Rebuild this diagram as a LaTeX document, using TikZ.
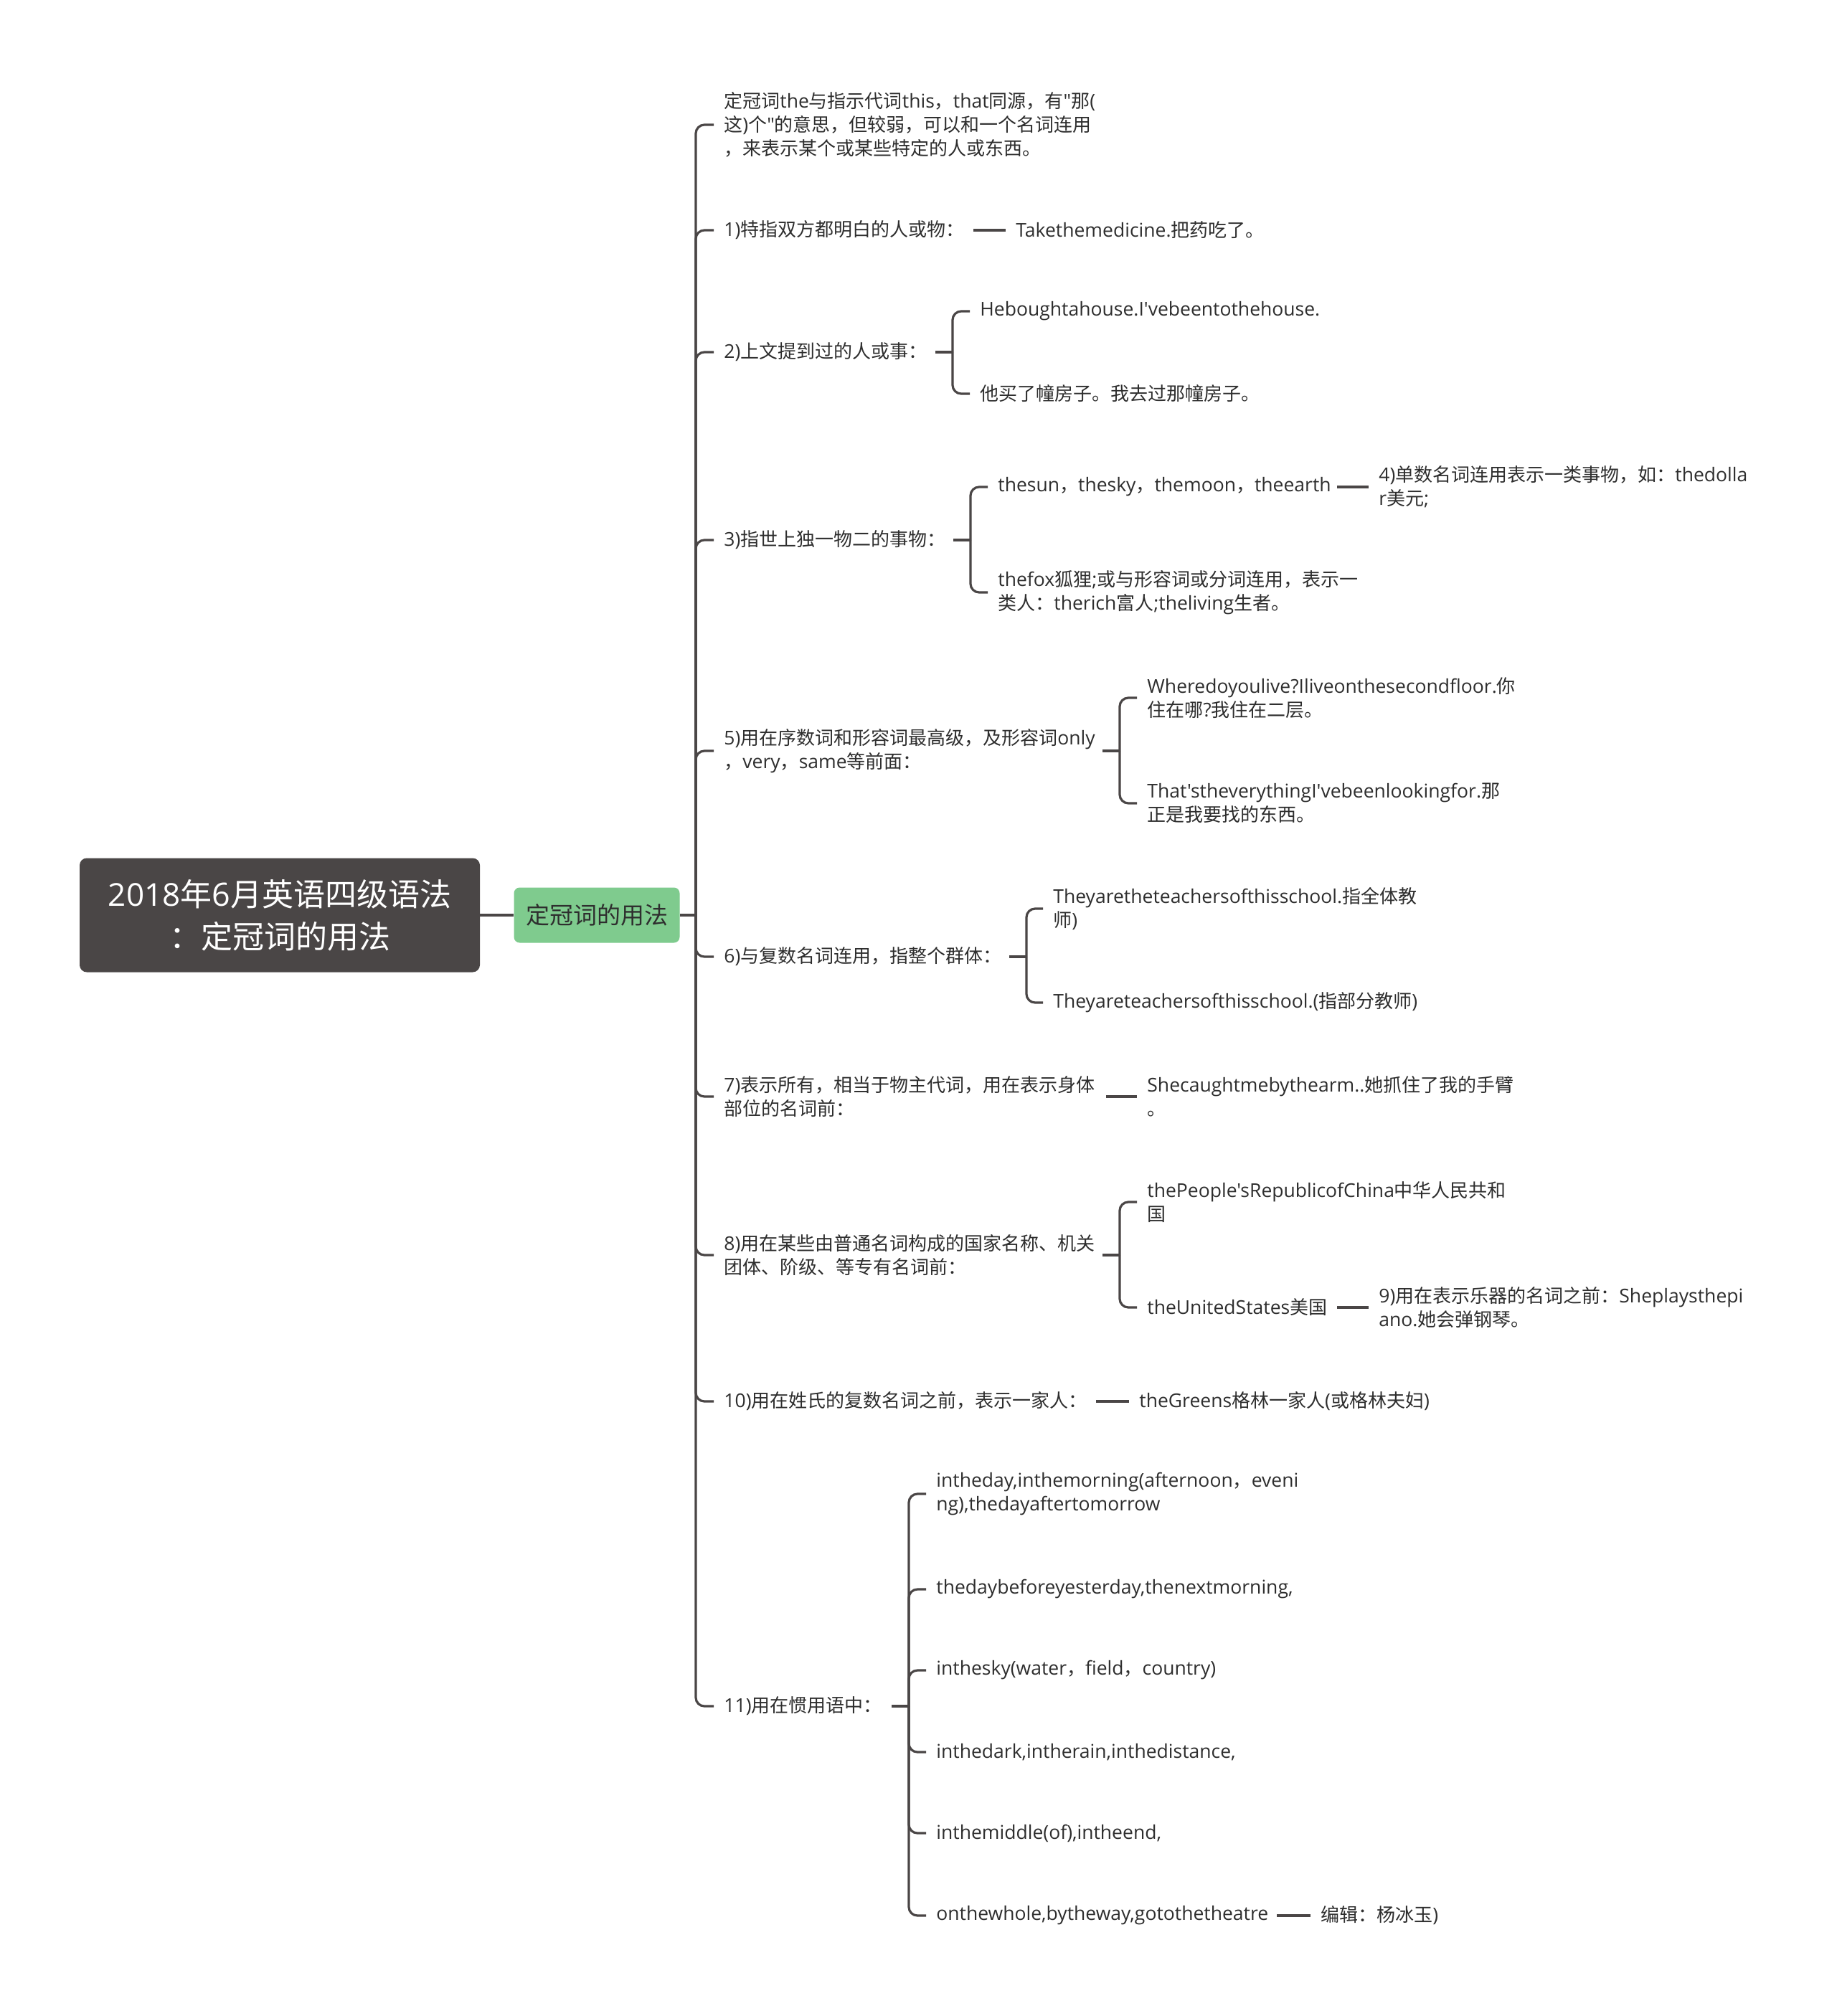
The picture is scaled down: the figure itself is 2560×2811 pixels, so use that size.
\documentclass[tikz,border=0pt]{standalone}
\usepackage{fontspec}
\setmainfont{Open Sans}[Ligatures=TeXOff]
\newfontfamily\cjkfont{Noto Sans CJK SC}
\newfontfamily\latfont{Open Sans}[Ligatures=TeXOff,Scale=1.02]
\XeTeXinterchartokenstate=1
\newXeTeXintercharclass\CJKcls
\newcount\cjkcc
\def\setcjkrange#1#2{\cjkcc=#1 \loop \XeTeXcharclass\cjkcc=\CJKcls \ifnum\cjkcc<#2 \advance\cjkcc by 1 \repeat}
\setcjkrange{"4E00}{"9FFF}
\setcjkrange{"3000}{"303F}
\setcjkrange{"FF00}{"FFEF}
\XeTeXinterchartoks 0 \CJKcls = {\cjkfont}
\XeTeXinterchartoks 4095 \CJKcls = {\cjkfont}
\XeTeXinterchartoks \CJKcls 0 = {\latfont}
\definecolor{lc}{HTML}{4A4646}
\definecolor{rootfill}{HTML}{4A4646}
\definecolor{gfill}{HTML}{7FCB8E}
\definecolor{tc}{HTML}{2E2E2E}
\tikzset{
  conn/.style={draw=lc, line width=1.6pt, rounded corners=6pt},
  txt/.style={anchor=west, inner xsep=7pt, inner ysep=1pt, align=left, text=tc,
    font=\fontsize{13}{16.5}\selectfont\latfont},
  rootbox/.style={fill=rootfill, rounded corners=5pt, minimum width=279pt,
    minimum height=79.5pt, inner sep=0pt, text=white, align=center,
    font=\fontsize{22}{29.5}\selectfont},
  subbox/.style={fill=gfill, rounded corners=4pt, minimum width=115.5pt,
    minimum height=38.5pt, inner sep=0pt, text=tc,
    font=\fontsize{16.5}{20}\selectfont},
}
\begin{document}
\begin{tikzpicture}[x=0.5pt,y=-0.5pt]
\fill[white] (0,0) rectangle (2560,2811);
\useasboundingbox (0,0) rectangle (2560,2811);

\node[rootbox] (root) at (390,1276) {2018年6月英语四级语法\\：定冠词的用法};
\node[subbox] (sub) at (832,1276) {定冠词的用法};
\coordinate (T) at (970,1276);
\draw[conn] (root.east) -- (sub.west);
\draw[conn] (sub.east) -- (T);

% level 2
\node[txt] (n0) at (995,174) {定冠词the与指示代词this，that同源，有"那(\\这)个"的意思，但较弱，可以和一个名词连用\\，来表示某个或某些特定的人或东西。};
\node[txt] (n1) at (995,321) {1)特指双方都明白的人或物：};
\node[txt] (n2) at (995,491) {2)上文提到过的人或事：};
\node[txt] (n3) at (995,753) {3)指世上独一物二的事物：};
\node[txt] (n5) at (995,1047) {5)用在序数词和形容词最高级，及形容词only\\，very，same等前面：};
\node[txt] (n6) at (995,1334) {6)与复数名词连用，指整个群体：};
\node[txt] (n7) at (995,1529) {7)表示所有，相当于物主代词，用在表示身体\\部位的名词前：};
\node[txt] (n8) at (995,1750) {8)用在某些由普通名词构成的国家名称、机关\\团体、阶级、等专有名词前：};
\node[txt] (n10) at (995,1954) {10)用在姓氏的复数名词之前，表示一家人：};
\node[txt] (n11) at (995,2379) {11)用在惯用语中：};
\foreach \n in {n0,n1,n2,n3,n5,n6,n7,n8,n10,n11} \draw[conn] (T) |- (\n.west);

% 1)
\node[txt] (c1) at (1402,321) {Takethemedicine.把药吃了。};
\coordinate (s1) at ([xshift=-22.5pt]c1.west);
\draw[conn] (s1) -- (c1.west);

% 2)
\node[txt] (c2a) at (1352,434) {Heboughtahouse.I'vebeentothehouse.};
\node[txt] (c2b) at (1352,549) {他买了幢房子。我去过那幢房子。};
\coordinate (b2) at (1328,491);
\draw[conn] ([xshift=-12pt]b2) -- (b2);
\foreach \c in {c2a,c2b} \draw[conn] (b2) |- (\c.west);

% 3)
\node[txt] (c3a) at (1377,679) {thesun，thesky，themoon，theearth};
\node[txt] (c3b) at (1377,826) {thefox狐狸;或与形容词或分词连用，表示一\\类人：therich富人;theliving生者。};
\coordinate (b3) at (1353,753);
\draw[conn] ([xshift=-12pt]b3) -- (b3);
\foreach \c in {c3a,c3b} \draw[conn] (b3) |- (\c.west);
\node[txt] (c4) at (1908,679) {4)单数名词连用表示一类事物，如：thedolla\\r美元;};
\coordinate (s4) at ([xshift=-22pt]c4.west);
\draw[conn] (s4) -- (c4.west);

% 5)
\node[txt] (c5a) at (1585,973) {Wheredoyoulive?Iliveonthesecondfloor.你\\住在哪?我住在二层。};
\node[txt] (c5b) at (1585,1120) {That'stheverythingI'vebeenlookingfor.那\\正是我要找的东西。};
\coordinate (b5) at (1561,1047);
\draw[conn] ([xshift=-12pt]b5) -- (b5);
\foreach \c in {c5a,c5b} \draw[conn] (b5) |- (\c.west);

% 6)
\node[txt] (c6a) at (1454,1267) {Theyaretheteachersofthisschool.指全体教\\师)};
\node[txt] (c6b) at (1454,1398) {Theyareteachersofthisschool.(指部分教师)};
\coordinate (b6) at (1431,1334);
\draw[conn] ([xshift=-12pt]b6) -- (b6);
\foreach \c in {c6a,c6b} \draw[conn] (b6) |- (\c.west);

% 7)
\node[txt] (c7) at (1585,1529) {Shecaughtmebythearm..她抓住了我的手臂\\。};
\coordinate (s7) at ([xshift=-21.5pt]c7.west);
\draw[conn] (s7) -- (c7.west);

% 8)
\node[txt] (c8a) at (1585,1676) {thePeople'sRepublicofChina中华人民共和\\国};
\node[txt] (c8b) at (1585,1823) {theUnitedStates美国};
\coordinate (b8) at (1561,1750);
\draw[conn] ([xshift=-12pt]b8) -- (b8);
\foreach \c in {c8a,c8b} \draw[conn] (b8) |- (\c.west);
\node[txt] (c9) at (1908,1823) {9)用在表示乐器的名词之前：Sheplaysthepi\\ano.她会弹钢琴。};
\coordinate (s9) at ([xshift=-22pt]c9.west);
\draw[conn] (s9) -- (c9.west);

% 10)
\node[txt] (c10) at (1574,1954) {theGreens格林一家人(或格林夫妇)};
\coordinate (s10) at ([xshift=-23pt]c10.west);
\draw[conn] (s10) -- (c10.west);

% 11)
\node[txt] (c11a) at (1291,2083) {intheday,inthemorning(afternoon，eveni\\ng),thedayaftertomorrow};
\node[txt] (c11b) at (1291,2216) {thedaybeforeyesterday,thenextmorning,};
\node[txt] (c11c) at (1291,2329) {inthesky(water，field，country)};
\node[txt] (c11d) at (1291,2443) {inthedark,intherain,inthedistance,};
\node[txt] (c11e) at (1291,2556) {inthemiddle(of),intheend,};
\node[txt] (c11f) at (1291,2671) {onthewhole,bytheway,gotothetheatre};
\coordinate (b11) at (1267,2379);
\draw[conn] ([xshift=-12pt]b11) -- (b11);
\foreach \c in {c11a,c11b,c11c,c11d,c11e,c11f} \draw[conn] (b11) |- (\c.west);
\node[txt] (c12) at (1827,2671) {编辑：杨冰玉)};
\coordinate (s12) at ([xshift=-23.5pt]c12.west);
\draw[conn] (s12) -- (c12.west);
\end{tikzpicture}
\end{document}
